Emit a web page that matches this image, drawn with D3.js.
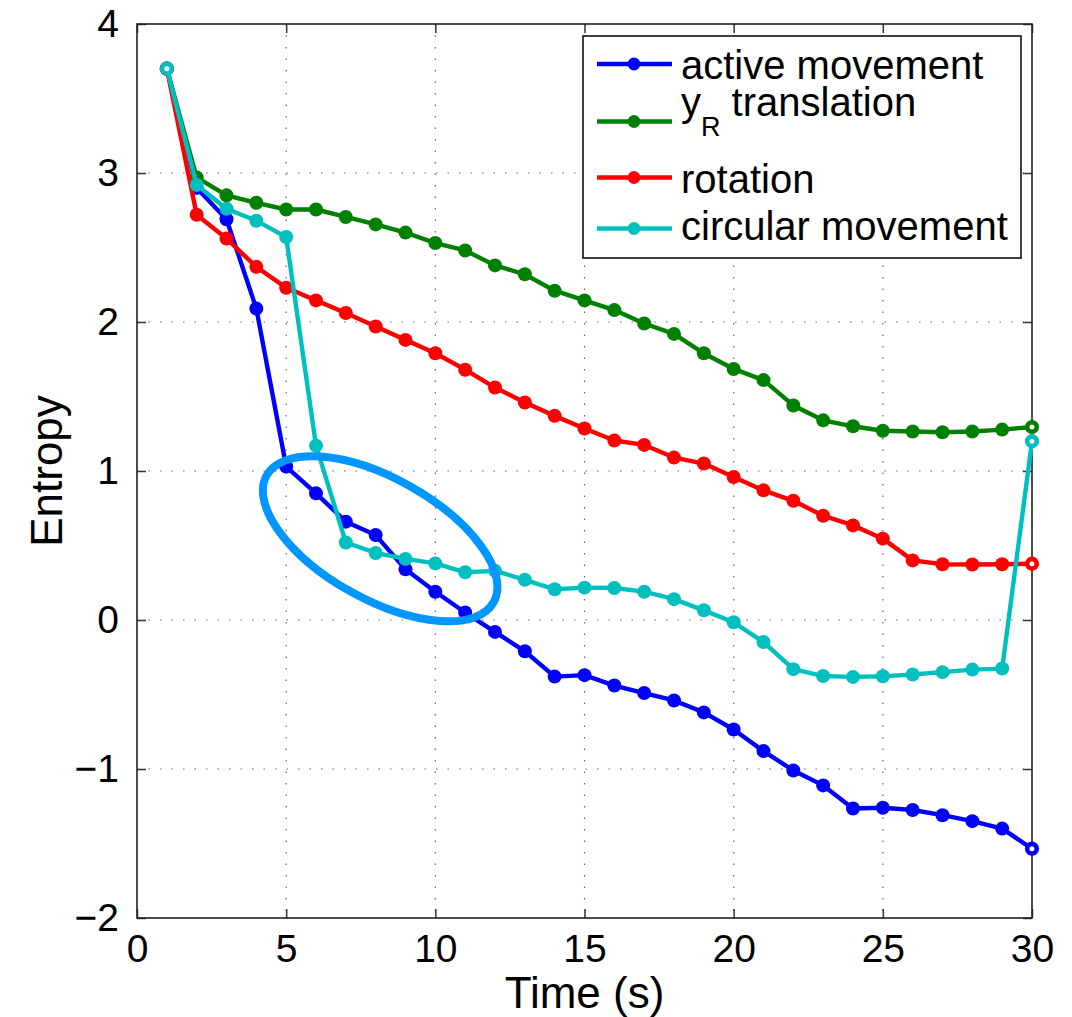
<!DOCTYPE html>
<html>
<head>
<meta charset="utf-8">
<script src="https://cdn.jsdelivr.net/npm/d3@7"></script>
<style>
  html, body { margin: 0; padding: 0; background: #fff; }
  svg { display: block; font-family: "Liberation Sans", Arial, Helvetica, sans-serif; }
</style>
</head>
<body>
<svg id="chart" width="1072" height="1017"></svg>
<script>
// ---- Data ----
const time = [1,2,3,4,5,6,7,8,9,10,11,12,13,14,15,16,17,18,19,20,21,22,23,24,25,26,27,28,29,30];
const activeMovement = [3.70, 2.90, 2.69, 2.09, 1.03, 0.85, 0.66, 0.57, 0.34, 0.19, 0.05, -0.08, -0.21, -0.38, -0.37, -0.44, -0.49, -0.54, -0.62, -0.735, -0.88, -1.01, -1.11, -1.265, -1.26, -1.275, -1.31, -1.35, -1.40, -1.535];
const yRTranslation = [3.70, 2.97, 2.85, 2.80, 2.755, 2.755, 2.705, 2.655, 2.60, 2.53, 2.48, 2.38, 2.32, 2.21, 2.145, 2.08, 1.99, 1.92, 1.79, 1.685, 1.61, 1.44, 1.34, 1.30, 1.27, 1.265, 1.26, 1.265, 1.278, 1.295];
const rotation = [3.70, 2.72, 2.56, 2.37, 2.23, 2.145, 2.06, 1.97, 1.88, 1.79, 1.68, 1.56, 1.46, 1.37, 1.285, 1.205, 1.175, 1.09, 1.05, 0.96, 0.87, 0.80, 0.70, 0.635, 0.546, 0.40, 0.374, 0.372, 0.374, 0.378];
const circularMovement = [3.70, 2.92, 2.76, 2.68, 2.57, 1.17, 0.52, 0.45, 0.41, 0.38, 0.32, 0.33, 0.27, 0.206, 0.217, 0.215, 0.19, 0.14, 0.065, -0.015, -0.148, -0.33, -0.376, -0.382, -0.378, -0.366, -0.35, -0.333, -0.326, 1.20];
const xTicks = [0, 5, 10, 15, 20, 25, 30];
const yTicks = [-2, -1, 0, 1, 2, 3, 4];
const seriesNames = ["active movement", "yR translation", "rotation", "circular movement"];
const seriesColors = ["#0000ff", "#008000", "#ff0000", "#00bfbf"];
const seriesValues = [activeMovement, yRTranslation, rotation, circularMovement];
// annotation ellipse centre (data units)
const highlight = [{ t: 8.15, v: 0.545 }];

// ---- Layout ----
const svg = d3.select("#chart");
const L = 137, R = 1032, T = 24, B = 918;
const x = d3.scaleLinear().domain([0, 30]).range([L, R]);
const y = d3.scaleLinear().domain([-2, 4]).range([B, T]);

// Grid
const grid = svg.append("g");
grid.selectAll("line.gx").data(xTicks.slice(1, -1)).join("line")
  .attr("x1", d => x(d)).attr("x2", d => x(d)).attr("y1", T).attr("y2", B)
  .attr("stroke", "#666").attr("stroke-width", 1.2).attr("stroke-dasharray", "1.5 10");
grid.selectAll("line.gy").data(yTicks.slice(1, -1)).join("line")
  .attr("y1", d => y(d)).attr("y2", d => y(d)).attr("x1", L).attr("x2", R)
  .attr("stroke", "#666").attr("stroke-width", 1.2).attr("stroke-dasharray", "1.5 10");

// Axes (ticks inward, mirrored on all sides)
const tickLen = 9;
const axG = svg.append("g");
axG.append("g").attr("transform", `translate(0,${B})`)
  .call(d3.axisBottom(x).tickValues(xTicks).tickSize(-tickLen).tickPadding(16).tickFormat(d3.format("d")));
axG.append("g").attr("transform", `translate(0,${T})`)
  .call(d3.axisTop(x).tickValues(xTicks).tickSize(-tickLen).tickFormat(""));
axG.append("g").attr("transform", `translate(${L},0)`)
  .call(d3.axisLeft(y).tickValues(yTicks).tickSize(-tickLen).tickPadding(18)
    .tickFormat(d => d < 0 ? "\u2212" + Math.abs(d) : d));
axG.append("g").attr("transform", `translate(${R},0)`)
  .call(d3.axisRight(y).tickValues(yTicks).tickSize(-tickLen).tickFormat(""));
axG.selectAll(".domain").remove();
axG.selectAll(".tick line").attr("stroke", "#333").attr("stroke-width", 1.5);
axG.selectAll(".tick text").attr("font-size", 39).attr("fill", "#000")
  .attr("font-family", "'Liberation Sans', Arial, sans-serif");
axG.append("rect").attr("x", L).attr("y", T).attr("width", R - L).attr("height", B - T)
  .attr("fill", "none").attr("stroke", "#222").attr("stroke-width", 1.6);

// Axis labels
svg.append("text").attr("x", (L + R) / 2).attr("y", 1008).attr("text-anchor", "middle")
  .attr("font-size", 44).text("Time (s)");
svg.append("text").attr("transform", `translate(62,${(T + B) / 2}) rotate(-90)`)
  .attr("text-anchor", "middle").attr("font-size", 44).text("Entropy");

// Series
const line = d3.line().x(d => x(d[0])).y(d => y(d[1]));
seriesValues.forEach((vals, i) => {
  const pts = time.map((t, k) => [t, vals[k]]);
  const g = svg.append("g");
  g.append("path").datum(pts).attr("d", line).attr("fill", "none")
    .attr("stroke", seriesColors[i]).attr("stroke-width", 4.4).attr("stroke-linejoin", "round");
  const n = pts.length;
  g.selectAll("circle").data(pts).join("circle")
    .attr("cx", d => x(d[0])).attr("cy", d => y(d[1]))
    .attr("r", (d, k) => (k === 0 || k === n - 1) ? 4.8 : 7)
    .attr("fill", (d, k) => (k === 0 || k === n - 1) ? "#fff" : seriesColors[i])
    .attr("stroke", seriesColors[i])
    .attr("stroke-width", (d, k) => (k === 0 || k === n - 1) ? 4.6 : 0);
});

// Highlight ellipse
svg.selectAll("ellipse.hl").data(highlight).join("ellipse")
  .attr("transform", d => `translate(${x(d.t)},${y(d.v)}) rotate(29.2)`)
  .attr("rx", 130).attr("ry", 60.5)
  .attr("fill", "none").attr("stroke", "#0096ff").attr("stroke-width", 8);

// Legend
const lg = svg.append("g");
lg.append("rect").attr("x", 583).attr("y", 36).attr("width", 438).attr("height", 222)
  .attr("fill", "#fff").attr("stroke", "#111").attr("stroke-width", 1.6);
const rowY = [64, 121.5, 177.5, 228.5];
const baseY = [79, 116, 193, 240];
seriesNames.forEach((name, i) => {
  lg.append("line").attr("x1", 597).attr("x2", 672).attr("y1", rowY[i]).attr("y2", rowY[i])
    .attr("stroke", seriesColors[i]).attr("stroke-width", 4.4);
  lg.append("circle").attr("cx", 634).attr("cy", rowY[i]).attr("r", 6.4).attr("fill", seriesColors[i]);
  const t = lg.append("text").attr("x", 681).attr("y", baseY[i]).attr("font-size", 40);
  if (name === "yR translation") {
    t.append("tspan").text("y");
    t.append("tspan").attr("font-size", 27).attr("dy", 20).text("R");
    t.append("tspan").attr("dy", -20).text(" translation");
  } else {
    t.text(name);
  }
});
</script>
</body>
</html>
